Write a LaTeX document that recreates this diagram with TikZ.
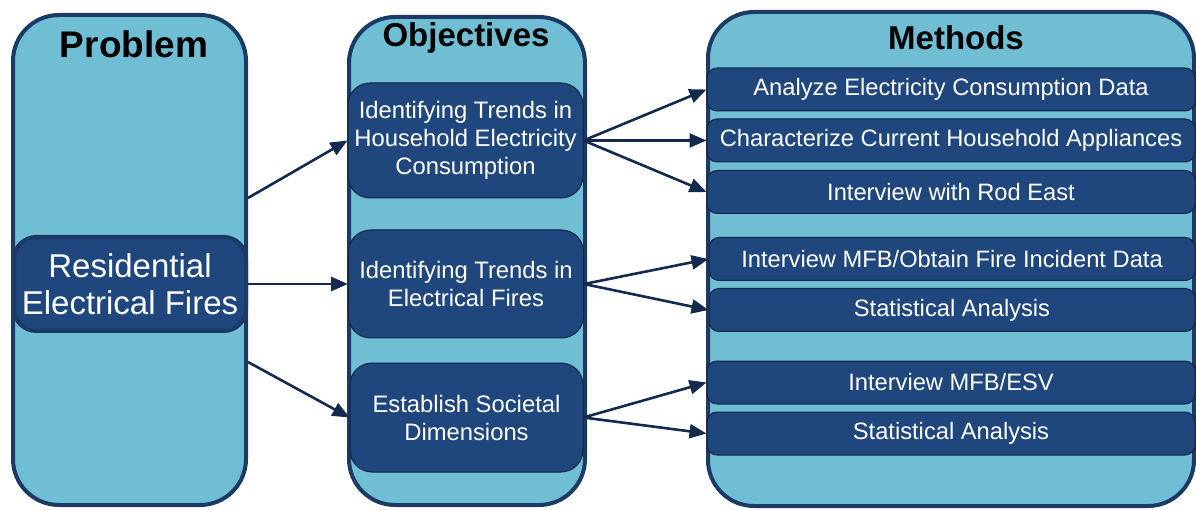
\documentclass[tikz,border=0pt]{standalone}
\usepackage{fontspec}
\setmainfont{Liberation Sans}
\usetikzlibrary{arrows.meta}
\definecolor{colfill}{HTML}{6FBED3}
\definecolor{colline}{HTML}{1C3A66}
\definecolor{boxfill}{HTML}{1F477E}
\definecolor{boxline}{HTML}{0F2342}
\definecolor{arrowc}{HTML}{132A4E}
\begin{document}
\begin{tikzpicture}[x=1pt,y=-1pt,
  column/.style={draw=colline, line width=4pt, fill=colfill, rounded corners=46pt, inner sep=0pt},
  title/.style={font=\bfseries\fontsize{33}{36}\selectfont, text=black, inner sep=0pt},
  objbox/.style={draw=boxline, line width=1pt, fill=boxfill, rounded corners=22pt, text=white, align=center,
    font=\fontsize{23.8}{28}\selectfont, minimum width=235pt, inner sep=0pt},
  methbox/.style={draw=boxline, line width=1pt, fill=boxfill, rounded corners=10pt, text=white, align=center,
    font=\fontsize{23.7}{28}\selectfont, minimum width=488pt, minimum height=43pt, inner sep=0pt},
  probbox/.style={draw=colline, line width=4pt, fill=boxfill, rounded corners=22pt, text=white, align=center,
    font=\fontsize{33}{37}\selectfont, minimum width=232pt, minimum height=94pt, inner sep=0pt},
  conn/.style={draw=arrowc, line width=2.6pt, -{Triangle[length=17pt,width=14pt]}}
]
\useasboundingbox (0,0) rectangle (1196,510);
% columns
\node[column, minimum width=233pt, minimum height=490pt] (prob) at (129.5,260) {};
\node[column, minimum width=236pt, minimum height=488pt] (obj) at (467,261) {};
\node[column, minimum width=486pt, minimum height=494pt] (meth) at (951,259) {};
% titles
\node[title, font=\bfseries\fontsize{37}{40}\selectfont] (tprob) at (134,44) {Problem};
\node[title] (tobj) at (466,38) {Objectives};
\node[title] (tmeth) at (956,38) {Methods};
% problem
\node[probbox] (res) at (130,284) {Residential\\Electrical Fires};
% objectives
\node[objbox, minimum height=115pt] (o1) at (465.5,140.5) {Identifying Trends in\\Household Electricity\\Consumption};
\node[objbox, minimum height=108pt] (o2) at (466,284) {Identifying Trends in\\Electrical Fires};
\node[objbox, minimum height=109pt, minimum width=233pt] (o3) at (466.5,417.5) {Establish Societal\\Dimensions};
% methods
\node[methbox] (m1) at (951,89.5) {Analyze Electricity Consumption Data};
\node[methbox] (m2) at (951,140.5) {Characterize Current Household Appliances};
\node[methbox] (m3) at (951,192) {Interview with Rod East};
\node[methbox, minimum width=486pt] (m4) at (952,259) {Interview MFB/Obtain Fire Incident Data};
\node[methbox, minimum width=486pt] (m5) at (952,310) {Statistical Analysis};
\node[methbox] (m6) at (951,382.5) {Interview MFB/ESV};
\node[methbox] (m7) at (951,433.5) {Statistical Analysis};
% connector start points on the problem column edge
\coordinate (ps1) at (248,198);
\coordinate (ps3) at (248,362);
% connectors
\draw[conn] (ps1) -- (o1.west);
\draw[conn] (res.east) -- (o2.west);
\draw[conn] (ps3) -- (o3.west);
\draw[conn] (o1.east) -- (m1.west);
\draw[conn] (o1.east) -- (m2.west);
\draw[conn] (o1.east) -- (m3.west);
\draw[conn] (o2.east) -- (m4.west);
\draw[conn] (o2.east) -- (m5.west);
\draw[conn] (o3.east) -- (m6.west);
\draw[conn] (o3.east) -- (m7.west);
\end{tikzpicture}
\end{document}
